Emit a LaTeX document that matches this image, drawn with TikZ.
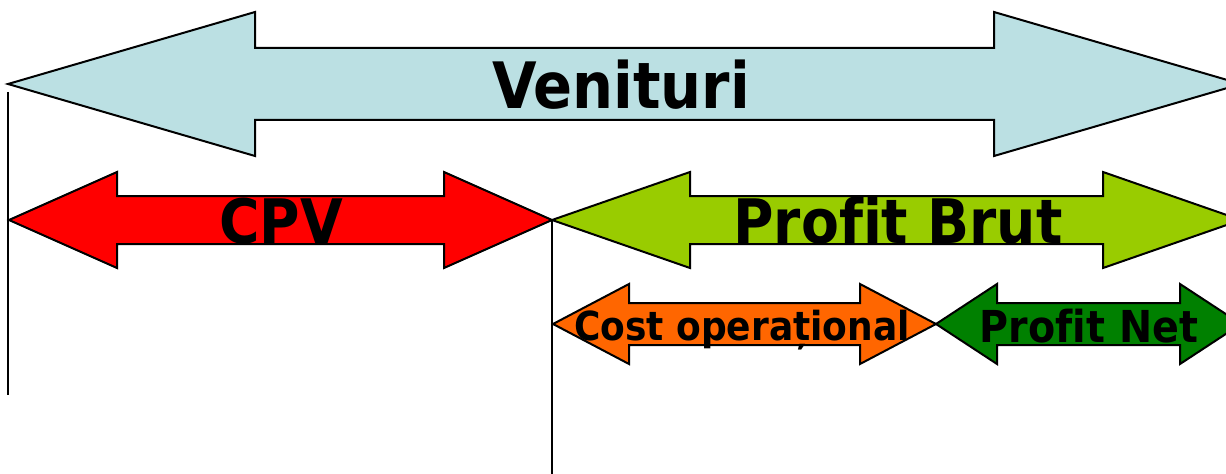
\documentclass[tikz,border=0pt]{standalone}
\usepackage{fontspec}
\setmainfont{DejaVu Sans}[Ligatures=NoCommon]

\definecolor{venblue}{HTML}{BBE0E3}
\definecolor{cpvred}{HTML}{FF0000}
\definecolor{brutgreen}{HTML}{99CC00}
\definecolor{costorange}{HTML}{FF6600}
\definecolor{netgreen}{HTML}{008000}

% fill, left tip x, right tip x, mid y, half shaft, half head, head length
\newcommand{\bandarrow}[7]{%
  \filldraw[band,fill=#1] (#2,#4) -- (#2+#7,#4-#6) -- (#2+#7,#4-#5) -- (#3-#7,#4-#5)
    -- (#3-#7,#4-#6) -- (#3,#4) -- (#3-#7,#4+#6) -- (#3-#7,#4+#5)
    -- (#2+#7,#4+#5) -- (#2+#7,#4+#6) -- cycle;}

\begin{document}
\begin{tikzpicture}[x=0.75pt,y=-0.75pt,
    band/.style={draw=black,line width=1.5pt,line join=miter},
    bandtext/.style={anchor=base,inner sep=0pt,xscale=0.9},
    guide/.style={draw=black,line width=1pt}
    ]

   \useasboundingbox (0,0) rectangle (1226,474);
   \clip (0,0) rectangle (1226,474);

   \coordinate (lefttop) at (8,92);
   \coordinate (leftbot) at (8,395);
   \coordinate (cpvtip) at (552,220);
   \coordinate (midbot) at (552,476);

   \draw[guide] (lefttop) -- (leftbot);
   \draw[guide] (cpvtip) -- (midbot);

   \bandarrow{venblue}{8}{1241}{84}{36}{72}{247}
   \bandarrow{cpvred}{9}{552}{220}{24}{48}{108}
   \bandarrow{brutgreen}{552}{1241}{220}{24}{48}{138}
   \bandarrow{costorange}{553}{936}{324}{21}{40}{76}
   \bandarrow{netgreen}{936}{1241}{324}{21}{40}{61}

   \node(venituri) [bandtext,font=\fontsize{48}{48}\selectfont\bfseries] at (621,109) {Venituri};
   \node(cpv) [bandtext,font=\fontsize{46}{46}\selectfont\bfseries] at (281,243) {CPV};
   \node(brut) [bandtext,font=\fontsize{46}{46}\selectfont\bfseries] at (898,243) {Profit Brut};
   \node(cost) [bandtext,font=\fontsize{30}{30}\selectfont\bfseries] at (742,340) {Cost operațional};
   \node(net) [bandtext,font=\fontsize{33}{33}\selectfont\bfseries] at (1089,342) {Profit Net};

  \end{tikzpicture}
\end{document}
